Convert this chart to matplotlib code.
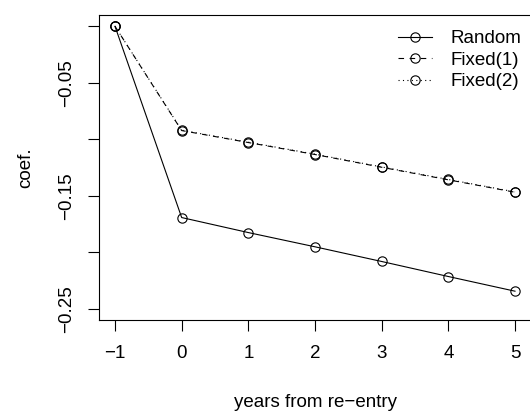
import matplotlib.pyplot as plt

years = [-1, 0, 1, 2, 3, 4, 5]
random_coef = [0.0, -0.1693, -0.1826, -0.1952, -0.2082, -0.2215, -0.2345]
fixed1_coef = [0.0, -0.0923, -0.1029, -0.1135, -0.1248, -0.1359, -0.1469]
fixed2_coef = [0.0, -0.0920, -0.1026, -0.1132, -0.1245, -0.1356, -0.1466]

x_ticks = [-1, 0, 1, 2, 3, 4, 5]
y_ticks = [0.0, -0.05, -0.10, -0.15, -0.20, -0.25]
y_labels = ['', '\u22120.05', '', '\u22120.15', '', '\u22120.25']

plt.rcParams['font.family'] = ['Liberation Sans', 'DejaVu Sans']
fs = 13.5

fig = plt.figure(figsize=(5.3, 4.12), dpi=100)
ax = fig.add_axes([99 / 530, 1 - 320 / 412, 432 / 530, 305 / 412])

mk = dict(marker='o', markersize=6.7, markerfacecolor='none',
          markeredgecolor='black', markeredgewidth=0.8, color='black', lw=0.8)
ax.plot(years, random_coef, linestyle='-', label='Random', **mk)
ax.plot(years, fixed1_coef, linestyle=(0, (5, 5)), label='Fixed(1)', **mk)
ax.plot(years, fixed2_coef, linestyle=(0, (1, 3)), label='Fixed(2)', **mk)

ax.set_xlim(-1.24, 5.24)
ax.set_ylim(-0.26, 0.01)
ax.set_xticks(x_ticks)
ax.set_xticklabels(['\u22121', '0', '1', '2', '3', '4', '5'])
ax.set_yticks(y_ticks)
ax.set_yticklabels(y_labels, rotation=90, va='center')
ax.tick_params(length=8, width=0.8, labelsize=fs)
ax.tick_params(axis='x', pad=10)
ax.tick_params(axis='y', pad=9.5)
for s in ax.spines.values():
    s.set_linewidth(0.8)

ax.set_xlabel('years from re\u2212entry', fontsize=fs, labelpad=23)
ax.set_ylabel('coef.', fontsize=fs, labelpad=17)

ax.legend(loc='upper right', frameon=False, fontsize=fs, handlelength=1.8,
          handletextpad=1.0, labelspacing=0.24, borderaxespad=0,
          bbox_to_anchor=(1 - 1.8 / 432, 1 - 7.5 / 305))

fig.savefig('out.png', dpi=100)
